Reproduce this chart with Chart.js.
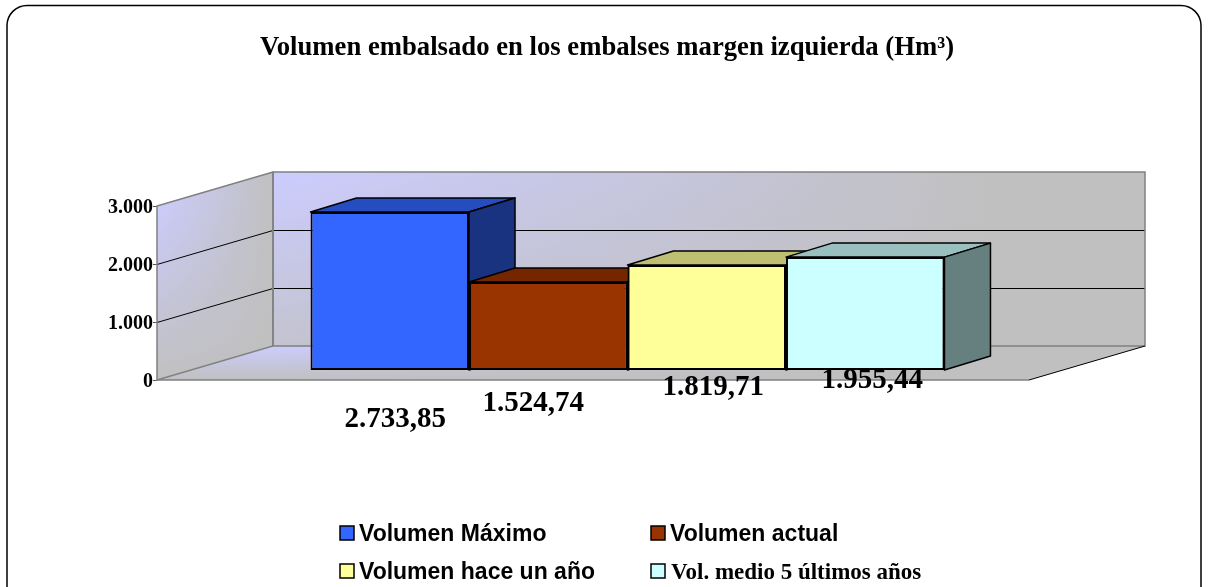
<!DOCTYPE html>
<html>
<head>
<meta charset="utf-8">
<title>Volumen embalsado</title>
<script src="https://cdn.jsdelivr.net/npm/chart.js@4"></script>
<style>
  html, body { margin: 0; padding: 0; background: #fff; overflow: hidden; }
</style>
</head>
<body>
<canvas id="myChart" width="1209" height="587"></canvas>
<script>
// data
const titleText = 'Volumen embalsado en los embalses margen izquierda (Hm³)';
const categories = ['Margen izquierda'];
const seriesNames = ['Volumen Máximo', 'Volumen actual', 'Volumen hace un año', 'Vol. medio 5 últimos años'];
const seriesValues = [2733.85, 1524.74, 1819.71, 1955.44];
const valueLabels = ['2.733,85', '1.524,74', '1.819,71', '1.955,44'];
const yTickValues = [0, 1000, 2000, 3000];
const yTickLabels = ['0', '1.000', '2.000', '3.000'];

const seriesColors = ['#3366FF', '#993300', '#FFFF99', '#CCFFFF'];

// 3D look
const wallDepth = { x: 116, y: -34 };
const barDepth = { x: 46, y: -14 };
const barShift = { x: 34.5, y: -9.5 };
const labelNudge = [[5.5, 40], [-15, 24], [6.5, 8], [7, 1]];

function shade(hex, f) {
  var n = parseInt(hex.slice(1), 16);
  var r = Math.round(((n >> 16) & 255) * f);
  var g = Math.round(((n >> 8) & 255) * f);
  var b = Math.round((n & 255) * f);
  return 'rgb(' + r + ',' + g + ',' + b + ')';
}

function poly(ctx, pts) {
  ctx.beginPath();
  ctx.moveTo(pts[0][0], pts[0][1]);
  for (var i = 1; i < pts.length; i++) ctx.lineTo(pts[i][0], pts[i][1]);
  ctx.closePath();
}

// lavender in one corner going grey to the right and downwards
function cornerFill(ctx, pts, x0, x1, y0, y1) {
  ctx.save();
  poly(ctx, pts);
  ctx.clip();
  var h = ctx.createLinearGradient(x0, 0, x1, 0);
  h.addColorStop(0, '#ccccff');
  h.addColorStop(1, '#c0c0c0');
  ctx.fillStyle = h;
  ctx.fillRect(0, 0, 1209, 587);
  var v = ctx.createLinearGradient(0, y0, 0, y1);
  v.addColorStop(0, 'rgba(192,192,192,0)');
  v.addColorStop(1, 'rgba(192,192,192,1)');
  ctx.fillStyle = v;
  ctx.fillRect(0, 0, 1209, 587);
  ctx.restore();
}

const frame = {
  id: 'frame',
  beforeDraw(chart) {
    var ctx = chart.ctx;
    ctx.save();
    ctx.beginPath();
    ctx.roundRect(7, 5.5, 1194, 640, 20);
    ctx.lineWidth = 1.5;
    ctx.strokeStyle = '#000';
    ctx.stroke();
    ctx.restore();
  },
  // the title sits over the whole frame, not over the plot
  afterLayout(chart) {
    chart.titleBlock.left += 44;
    chart.titleBlock.right += 44;
  }
};

const walls = {
  id: 'walls',
  beforeDatasetsDraw(chart) {
    var ctx = chart.ctx;
    var y = chart.scales.y;
    var left = chart.chartArea.left;
    var right = chart.chartArea.right;
    var y0 = y.getPixelForValue(yTickValues[0]);
    var yTop = y.getPixelForValue(yTickValues[yTickValues.length - 1]);
    var d = wallDepth;

    var sideWall = [[left, yTop], [left + d.x, yTop + d.y], [left + d.x, y0 + d.y], [left, y0]];
    var backWall = [[left + d.x, yTop + d.y], [right + d.x, yTop + d.y], [right + d.x, y0 + d.y], [left + d.x, y0 + d.y]];
    var floor = [[left, y0], [left + d.x, y0 + d.y], [right + d.x, y0 + d.y], [right, y0]];

    cornerFill(ctx, backWall, left + d.x, 1000, yTop + d.y, y0 + d.y + 60);
    cornerFill(ctx, sideWall, left, left + d.x, yTop - 10, y0);
    cornerFill(ctx, floor, left + d.x, 900, y0 + d.y, y0);

    ctx.save();
    ctx.lineWidth = 1;
    ctx.strokeStyle = '#000';
    yTickValues.slice(1, -1).forEach(function (v) {
      var p = Math.round(y.getPixelForValue(v)) + 0.5;
      ctx.beginPath();
      ctx.moveTo(left, p);
      ctx.lineTo(left + d.x, p + d.y);
      ctx.lineTo(right + d.x, p + d.y);
      ctx.stroke();
    });

    ctx.lineWidth = 1.5;
    ctx.strokeStyle = '#808080';
    poly(ctx, backWall);
    ctx.stroke();
    poly(ctx, sideWall);
    ctx.stroke();

    ctx.beginPath();
    ctx.moveTo(left, y0);
    ctx.lineTo(right, y0);
    ctx.stroke();

    ctx.lineWidth = 1;
    ctx.strokeStyle = '#000';
    ctx.beginPath();
    ctx.moveTo(right, y0);
    ctx.lineTo(right + d.x, y0 + d.y);
    ctx.stroke();
    ctx.restore();
  }
};

// Boxes go left to right so each front face hides the neighbour's side.
// Chart.js paints datasets last to first, so the loop is done here instead.
const boxes = {
  id: 'boxes',
  beforeDatasetsDraw(chart) {
    var ctx = chart.ctx;
    chart.data.datasets.forEach(function (ds, i) {
      var meta = chart.getDatasetMeta(i);
      var bar = meta.data[0];
      var color = seriesColors[i];
      var l = bar.x - bar.width / 2 + barShift.x;
      var r = bar.x + bar.width / 2 + barShift.x;
      var t = bar.y + barShift.y;
      var b = bar.base + barShift.y;
      var d = barDepth;

      ctx.save();
      ctx.lineWidth = 1.5;
      ctx.lineJoin = 'round';
      ctx.strokeStyle = '#000';
      poly(ctx, [[l, t], [l + d.x, t + d.y], [r + d.x, t + d.y], [r, t]]);
      ctx.fillStyle = shade(color, 0.75);
      ctx.fill();
      ctx.stroke();
      poly(ctx, [[r, t], [r + d.x, t + d.y], [r + d.x, b + d.y], [r, b]]);
      ctx.fillStyle = shade(color, 0.5);
      ctx.fill();
      ctx.stroke();
      ctx.translate(barShift.x, barShift.y);
      meta.controller.draw();
      ctx.restore();
    });
    return false;
  }
};

const annotations = {
  id: 'annotations',
  afterDraw(chart) {
    var ctx = chart.ctx;
    ctx.save();
    ctx.fillStyle = '#000';
    ctx.textAlign = 'center';
    ctx.textBaseline = 'middle';
    ctx.font = 'bold 29px "Liberation Serif"';
    chart.data.datasets.forEach(function (ds, i) {
      var bar = chart.getDatasetMeta(i).data[0];
      ctx.fillText(valueLabels[i], bar.x + barShift.x + labelNudge[i][0], bar.base + labelNudge[i][1]);
    });

    // legend, two rows by two columns
    var spots = [[340, 533], [651, 533], [340, 571], [651, 571]];
    ctx.textAlign = 'left';
    seriesNames.forEach(function (name, i) {
      var sx = spots[i][0], sy = spots[i][1];
      ctx.fillStyle = seriesColors[i];
      ctx.fillRect(sx, sy - 7, 14, 14);
      ctx.lineWidth = 1.5;
      ctx.strokeStyle = '#000';
      ctx.strokeRect(sx, sy - 7, 14, 14);
      ctx.fillStyle = '#000';
      ctx.font = i === 3 ? 'bold 23px "Liberation Serif"' : 'bold 23px "Liberation Sans"';
      ctx.fillText(name, sx + (i === 3 ? 20 : 19), sy + 2);
    });
    ctx.restore();
  }
};

new Chart(document.getElementById('myChart'), {
  type: 'bar',
  data: {
    labels: categories,
    datasets: seriesNames.map(function (name, i) {
      return {
        label: name,
        data: [seriesValues[i]],
        backgroundColor: seriesColors[i],
        borderColor: '#000',
        borderWidth: 2,
        borderSkipped: false,
        clip: false
      };
    })
  },
  options: {
    responsive: false,
    animation: false,
    devicePixelRatio: 1,
    barPercentage: 1,
    categoryPercentage: 0.727,
    layout: { padding: { left: 97, right: 180, top: 0, bottom: 207 } },
    plugins: {
      legend: { display: false },
      tooltip: { enabled: false },
      title: {
        display: true,
        text: titleText,
        color: '#000',
        font: { family: '"Liberation Serif"', size: 26.7, weight: 'bold', lineHeight: 1.2 },
        padding: { top: 32, bottom: 142 }
      }
    },
    scales: {
      x: { display: false },
      y: {
        min: 0,
        max: 3000,
        afterFit(scale) { scale.width = 60; },
        afterBuildTicks(scale) { scale.ticks = yTickValues.map(function (v) { return { value: v }; }); },
        border: { display: false },
        grid: { drawOnChartArea: false, drawTicks: true, tickLength: 4, color: '#555' },
        ticks: {
          padding: 0,
          labelOffset: 1.5,
          color: '#000',
          font: { family: '"Liberation Serif"', size: 20, weight: 'bold' },
          callback: function (v, i) { return yTickLabels[i]; }
        }
      }
    }
  },
  plugins: [frame, walls, boxes, annotations]
});
</script>
</body>
</html>
